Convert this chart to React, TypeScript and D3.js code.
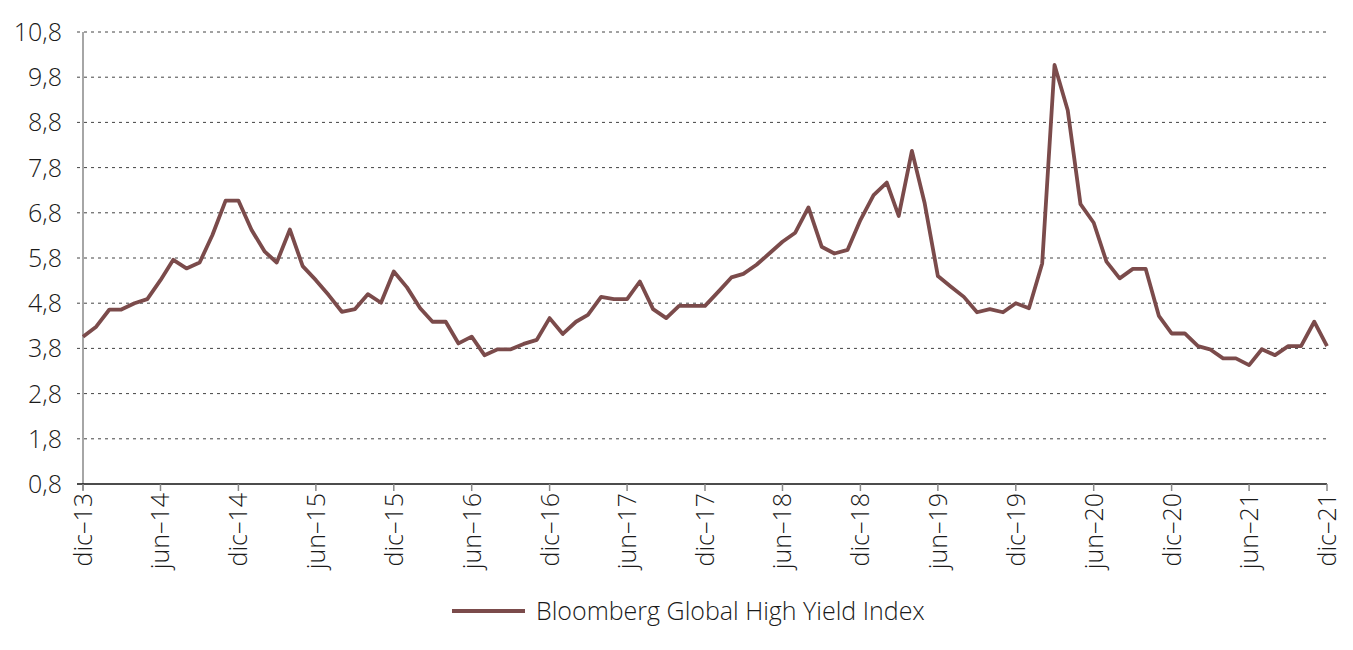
import React from "react";
import { scaleTime, scaleLinear, line } from "d3";

const width = 1353, height = 650
const margin = { left: 83, right: 26, top: 32, bottom: 166 }

// monthly values, dic-13 .. dic-21
const startDate = new Date(2013, 11, 1)
const values = [
  4.06,
  4.28, 4.66, 4.66, 4.80, 4.89, 5.31, 5.76, 5.57, 5.70, 6.31, 7.07, 7.07,
  6.42, 5.94, 5.70, 6.43, 5.62, 5.31, 4.98, 4.61, 4.67, 5.00, 4.81, 5.50,
  5.15, 4.69, 4.39, 4.39, 3.91, 4.06, 3.65, 3.78, 3.78, 3.90, 3.99, 4.47,
  4.12, 4.39, 4.54, 4.94, 4.89, 4.89, 5.28, 4.67, 4.47, 4.74, 4.74, 4.74,
  5.05, 5.37, 5.45, 5.65, 5.90, 6.16, 6.36, 6.92, 6.05, 5.90, 5.98, 6.64,
  7.19, 7.47, 6.73, 8.17, 7.01, 5.40, 5.17, 4.94, 4.60, 4.67, 4.60, 4.80,
  4.69, 5.68, 10.07, 9.07, 6.99, 6.58, 5.72, 5.35, 5.56, 5.56, 4.52, 4.13,
  4.13, 3.85, 3.78, 3.58, 3.58, 3.43, 3.78, 3.65, 3.85, 3.85, 4.39, 3.85,
]
const xTickLabels = [
  "dic–13", "jun–14", "dic–14", "jun–15", "dic–15", "jun–16", "dic–16", "jun–17", "dic–17",
  "jun–18", "dic–18", "jun–19", "dic–19", "jun–20", "dic–20", "jun–21", "dic–21",
]
const yTicks = [0.8, 1.8, 2.8, 3.8, 4.8, 5.8, 6.8, 7.8, 8.8, 9.8, 10.8]
const seriesName = "Bloomberg Global High Yield Index"

const lineColor = "#7b4b4b"
const font = "'Open Sans', 'DejaVu Sans', sans-serif"

const monthDate = (i: number) => new Date(startDate.getFullYear(), startDate.getMonth() + i, 1)

const App = () => {
  const data = values.map((v, i) => ({ date: monthDate(i), value: v }))

  const xScale = scaleTime()
    .domain([data[0].date, data[data.length - 1].date])
    .range([margin.left, width - margin.right])

  const yScale = scaleLinear()
    .domain([0.8, 10.8])
    .range([height - margin.bottom, margin.top])

  const path = line<{ date: Date, value: number }>()
    .x(d => xScale(d.date))
    .y(d => yScale(d.value))

  const xTicks = xTickLabels.map((label, i) => ({ label, date: monthDate(i * 6) }))
  const x0 = margin.left, x1 = width - margin.right
  const yBottom = yScale(0.8)

  return <svg width={width} height={height}
    style={{ position: "absolute", left: 0, top: 0, background: "#fff" }}
    fontFamily={font}>
    {/* grid */}
    {yTicks.filter(t => t !== 0.8).map(t =>
      <line key={t} x1={x0 - 6} x2={x1} y1={yScale(t)} y2={yScale(t)}
        stroke="#444" strokeWidth={1} strokeDasharray="3,4" />
    )}
    {/* y labels */}
    {yTicks.map(t =>
      <text key={t} x={62} y={yScale(t)} dy="0.36em" textAnchor="end"
        fontSize={25} fill="#1a1a1a" fontWeight={300}>
        {t.toFixed(1).replace(".", ",")}
      </text>
    )}
    {/* axes */}
    <line x1={x0} x2={x0} y1={margin.top} y2={yBottom + 6} stroke="#888" strokeWidth={1.5} />
    <line x1={x0 - 6} x2={x1} y1={yBottom} y2={yBottom} stroke="#111" strokeWidth={1.5} />
    {xTicks.map(t =>
      <g key={t.label} transform={`translate(${xScale(t.date)},${yBottom})`}>
        <line y1={0} y2={7} stroke="#888" strokeWidth={1.5} />
        <text transform="rotate(-90)" x={-9} dy="0.36em" textAnchor="end"
          fontSize={25} fill="#1a1a1a" fontWeight={300}>{t.label}</text>
      </g>
    )}
    {/* series */}
    <path d={path(data) ?? ""} fill="none" stroke={lineColor} strokeWidth={3.8}
      strokeLinejoin="round" />
    {/* legend */}
    <line x1={452} x2={525} y1={611} y2={611} stroke={lineColor} strokeWidth={4} />
    <text x={536} y={611} dy="0.36em" fontSize={25} fill="#1a1a1a" fontWeight={300}>{seriesName}</text>
  </svg>
}

export default App;
